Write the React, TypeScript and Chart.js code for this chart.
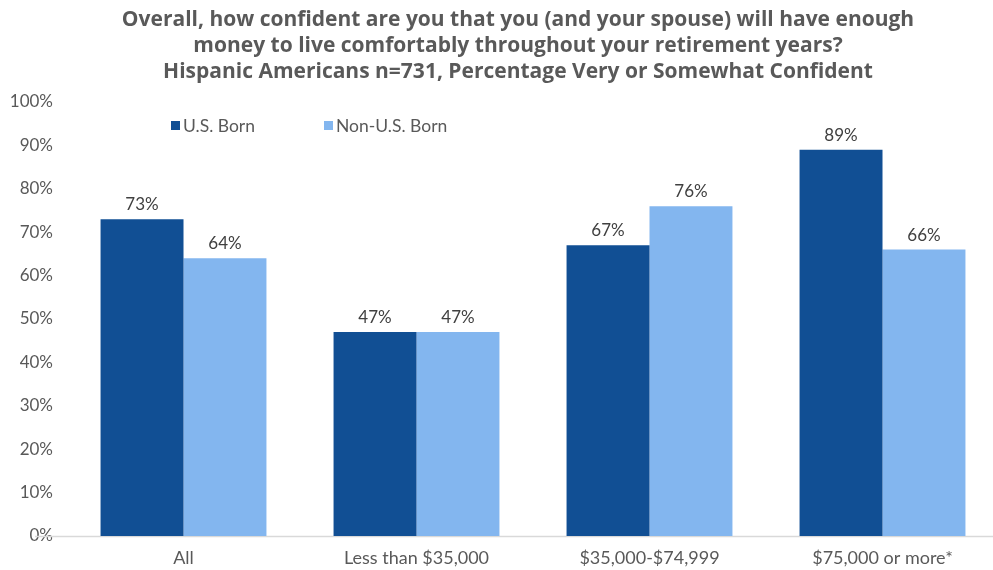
import React, { useEffect, useRef } from "react";
import { Chart, registerables } from "chart.js";

Chart.register(...registerables);

const categories = ["All", "Less than $35,000", "$35,000-$74,999", "$75,000 or more*"];
const usBorn = [73, 47, 67, 89];
const nonUsBorn = [64, 47, 76, 66];
const seriesNames = ["U.S. Born", "Non-U.S. Born"];
const titleLines = [
  "Overall, how confident are you that you (and your spouse) will have enough",
  "money to live comfortably throughout your retirement years?",
  "Hispanic Americans n=731, Percentage Very or Somewhat Confident",
];
const yTicks = [0, 10, 20, 30, 40, 50, 60, 70, 80, 90, 100];

const DARK = "#114F94";
const LIGHT = "#83B6EF";
const TEXT = "#595959";
const FONT = "Lato, 'Open Sans', sans-serif";

const decorPlugin = {
  id: "decor",
  beforeDatasetsDraw(chart: any) {
    const { ctx, chartArea } = chart;
    const y0 = chart.scales.y.getPixelForValue(0);
    ctx.save();
    ctx.strokeStyle = "#D9D9D9";
    ctx.lineWidth = 1.5;
    ctx.beginPath();
    ctx.moveTo(35, y0 + 0.5);
    ctx.lineTo(chartArea.right, y0 + 0.5);
    ctx.stroke();
    ctx.restore();
  },
  afterDatasetsDraw(chart: any) {
    const { ctx } = chart;
    ctx.save();
    // title
    ctx.fillStyle = TEXT;
    ctx.font = `bold 21px 'Open Sans', sans-serif`;
    ctx.textAlign = "center";
    ctx.textBaseline = "middle";
    titleLines.forEach((t, i) => ctx.fillText(t, 518, 20 + i * 26));
    // data labels
    ctx.font = `17px ${FONT}`;
    ctx.fillStyle = "#404040";
    ctx.textBaseline = "alphabetic";
    chart.data.datasets.forEach((ds: any, di: number) => {
      const meta = chart.getDatasetMeta(di);
      meta.data.forEach((bar: any, i: number) => {
        ctx.fillText(ds.data[i] + "%", bar.x, bar.y - 9);
      });
    });
    // legend
    ctx.textAlign = "left";
    ctx.textBaseline = "middle";
    ctx.font = `17.5px ${FONT}`;
    const lx = [171, 324];
    chart.data.datasets.forEach((ds: any, di: number) => {
      ctx.fillStyle = ds.backgroundColor;
      ctx.fillRect(lx[di], 121, 9, 9);
      ctx.fillStyle = TEXT;
      ctx.fillText(ds.label, lx[di] + 12, 126);
    });
    ctx.restore();
  },
};

export default function App() {
  const ref = useRef<HTMLCanvasElement | null>(null);
  useEffect(() => {
    if (!ref.current) return;
    const chart = new Chart(ref.current, {
      type: "bar",
      data: {
        labels: categories,
        datasets: [
          { label: seriesNames[0], data: usBorn, backgroundColor: DARK, categoryPercentage: 0.712, barPercentage: 1 },
          { label: seriesNames[1], data: nonUsBorn, backgroundColor: LIGHT, categoryPercentage: 0.712, barPercentage: 1 },
        ],
      },
      options: {
        animation: false,
        responsive: true,
        maintainAspectRatio: false,
        layout: { padding: { top: 102, left: 0, right: 0, bottom: 0 } },
        plugins: { legend: { display: false }, title: { display: false }, tooltip: { enabled: false } },
        scales: {
          x: {
            grid: { display: false, drawTicks: false },
            border: { display: false },
            ticks: { color: TEXT, font: { family: FONT, size: 18 }, padding: 11, maxRotation: 0 },
            afterFit: (s: any) => { s.height = 34; },
          },
          y: {
            min: 0,
            max: 100,
            afterBuildTicks: (s: any) => { s.ticks = yTicks.map((v) => ({ value: v })); },
            grid: { display: false, drawTicks: false },
            border: { display: false },
            ticks: { color: TEXT, font: { family: FONT, size: 17 }, padding: 14, callback: (v: any) => v + "%" },
            afterFit: (s: any) => { s.width = 67; },
          },
        },
      },
      plugins: [decorPlugin],
    });
    return () => chart.destroy();
  }, []);
  return (
    <div style={{ position: "absolute", left: 0, top: 0, width: 993, height: 570, overflow: "hidden", background: "#fff" }}>
      <div style={{ position: "relative", width: 999, height: 570 }}>
        <canvas ref={ref} />
      </div>
    </div>
  );
}
